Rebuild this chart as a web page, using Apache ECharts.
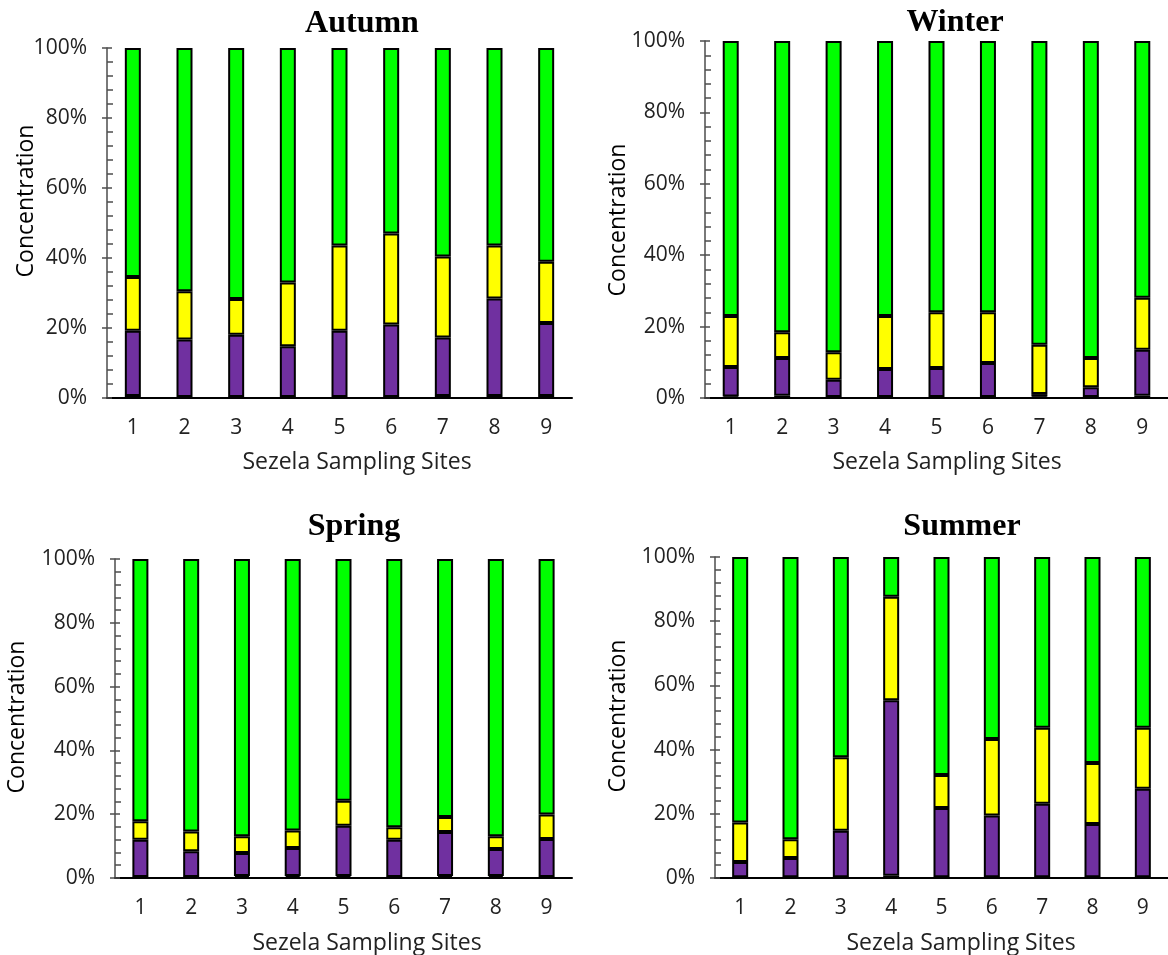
<!DOCTYPE html>
<html>
<head>
<meta charset="utf-8">
<script src="https://cdn.jsdelivr.net/npm/echarts@6/dist/echarts.min.js"></script>
<style>
  html, body { margin: 0; padding: 0; background: #fff; }
  #chart { width: 1168px; height: 955px; }
</style>
</head>
<body>
<div id="chart"></div>
<script>
// Sampling sites along the x axis
const sites = ['1', '2', '3', '4', '5', '6', '7', '8', '9'];
const seasons = ['Autumn', 'Winter', 'Spring', 'Summer'];
const yTicks = [0, 20, 40, 60, 80, 100];

// Segment shares (%) per site, bottom to top: base, purple, yellow, green
const autumnBase   = [0.6, 0.3, 0.3, 0.3, 0.3, 0.3, 0.6, 0.6, 0.6];
const autumnPurple = [18.6, 16.4, 17.8, 14.5, 18.9, 20.7, 16.7, 27.8, 20.8];
const autumnYellow = [15.4, 13.8, 10.2, 18.2, 24.4, 26.0, 23.1, 15.2, 17.5];
const autumnGreen  = [65.4, 69.5, 71.7, 67.0, 56.4, 53.0, 59.6, 56.4, 61.1];

const winterBase   = [0.4, 0.6, 0.3, 0.3, 0.3, 0.3, 0.4, 0.3, 0.6];
const winterPurple = [8.3, 10.6, 4.8, 7.8, 8.1, 9.5, 0.7, 2.7, 12.9];
const winterYellow = [14.3, 7.2, 7.7, 14.9, 15.6, 14.2, 13.8, 8.2, 14.6];
const winterGreen  = [77.0, 81.6, 87.2, 77.0, 76.0, 76.0, 85.1, 88.8, 71.9];

const springBase   = [0.3, 0.3, 0.6, 0.6, 0.6, 0.3, 0.6, 0.6, 0.3];
const springPurple = [11.7, 8.1, 7.2, 8.8, 15.8, 11.7, 13.8, 8.5, 11.9];
const springYellow = [5.8, 6.2, 5.3, 5.5, 7.8, 3.9, 4.7, 4.0, 7.7];
const springGreen  = [82.2, 85.4, 86.9, 85.1, 75.8, 84.1, 80.9, 86.9, 80.1];

const summerBase   = [0.2, 0.2, 0.2, 0.7, 0.2, 0.2, 0.2, 0.2, 0.2];
const summerPurple = [4.8, 6.0, 14.5, 54.7, 21.6, 19.3, 22.9, 16.6, 27.6];
const summerYellow = [12.3, 5.9, 22.9, 32.2, 10.3, 23.8, 23.7, 19.0, 19.0];
const summerGreen  = [82.7, 87.9, 62.4, 12.4, 67.9, 56.7, 53.2, 64.2, 53.2];

const panelData = [
  [autumnBase, autumnPurple, autumnYellow, autumnGreen],
  [winterBase, winterPurple, winterYellow, winterGreen],
  [springBase, springPurple, springYellow, springGreen],
  [summerBase, summerPurple, summerYellow, summerGreen]
];
const segmentColors = ['#1a0a1f', '#7030A0', '#FFFF00', '#00FF00'];

// Panel layout: plot rectangles and text anchors
const grids = [
  { left: 107, top: 48, width: 465, height: 350 },
  { left: 705, top: 41, width: 470, height: 357 },
  { left: 115, top: 559, width: 457, height: 319 },
  { left: 715, top: 557, width: 458, height: 321 }
];
const titlePos = [[362, 24], [955, 23], [354, 527], [962, 527]];
const yNamePos = [[26, 201], [618, 220], [17, 717], [618, 716]];
const xNamePos = [[357, 462], [947, 462], [367, 943], [961, 943]];

const labelFont = '"Open Sans", "Noto Sans", sans-serif';
const axisGray = '#4d4d4d';

const xAxes = [], yAxes = [], series = [], graphics = [];
grids.forEach((g, i) => {
  xAxes.push({
    type: 'category', gridIndex: i, data: sites,
    axisLine: { lineStyle: { color: '#000', width: 2 } },
    axisTick: { show: false },
    axisLabel: { color: '#222', fontSize: 21, fontFamily: labelFont, margin: 20 }
  });
  // main value axis: line, outer half of major ticks, labels
  yAxes.push({
    type: 'value', gridIndex: i, min: 0, max: 100, interval: 20,
    axisLine: { show: true, lineStyle: { color: axisGray, width: 1.5 } },
    axisTick: { show: true, length: 5, lineStyle: { color: axisGray, width: 1.5 } },
    splitLine: { show: false },
    axisLabel: { color: '#222', fontSize: 21, fontFamily: labelFont, margin: 20, formatter: '{value}%' }
  });
  // companion axis: inner half of major ticks plus the minor ticks
  yAxes.push({
    type: 'value', gridIndex: i, min: 0, max: 100, interval: 20, position: 'left',
    axisLine: { show: false },
    axisTick: { show: true, inside: true, length: 5, lineStyle: { color: axisGray, width: 1.5 } },
    minorTick: { show: true, splitNumber: 5, length: 6, lineStyle: { color: axisGray, width: 1.5 } },
    axisLabel: { show: false },
    splitLine: { show: false }
  });
  panelData[i].forEach((vals, k) => {
    series.push({
      type: 'bar', xAxisIndex: i, yAxisIndex: i * 2, stack: 'panel' + i,
      data: vals, barWidth: 16,
      itemStyle: { color: segmentColors[k], borderColor: '#000', borderWidth: 2 },
      silent: true
    });
  });
  graphics.push({
    type: 'text', x: titlePos[i][0], y: titlePos[i][1],
    style: { text: seasons[i], fill: '#000', font: 'bold 32px "Liberation Serif", serif', textAlign: 'center', textVerticalAlign: 'middle' }
  });
  graphics.push({
    type: 'text', x: yNamePos[i][0], y: yNamePos[i][1], rotation: Math.PI / 2,
    style: { text: 'Concentration', fill: '#000', font: '23px ' + labelFont, textAlign: 'center', textVerticalAlign: 'middle' }
  });
  graphics.push({
    type: 'text', x: xNamePos[i][0], y: xNamePos[i][1],
    style: { text: 'Sezela Sampling Sites', fill: '#222', font: '23px ' + labelFont, textAlign: 'center', textVerticalAlign: 'middle' }
  });
});

const chart = echarts.init(document.getElementById('chart'), null, { renderer: 'canvas' });
chart.setOption({
  animation: false,
  backgroundColor: '#fff',
  grid: grids,
  xAxis: xAxes,
  yAxis: yAxes,
  series: series,
  graphic: graphics
});
</script>
</body>
</html>
